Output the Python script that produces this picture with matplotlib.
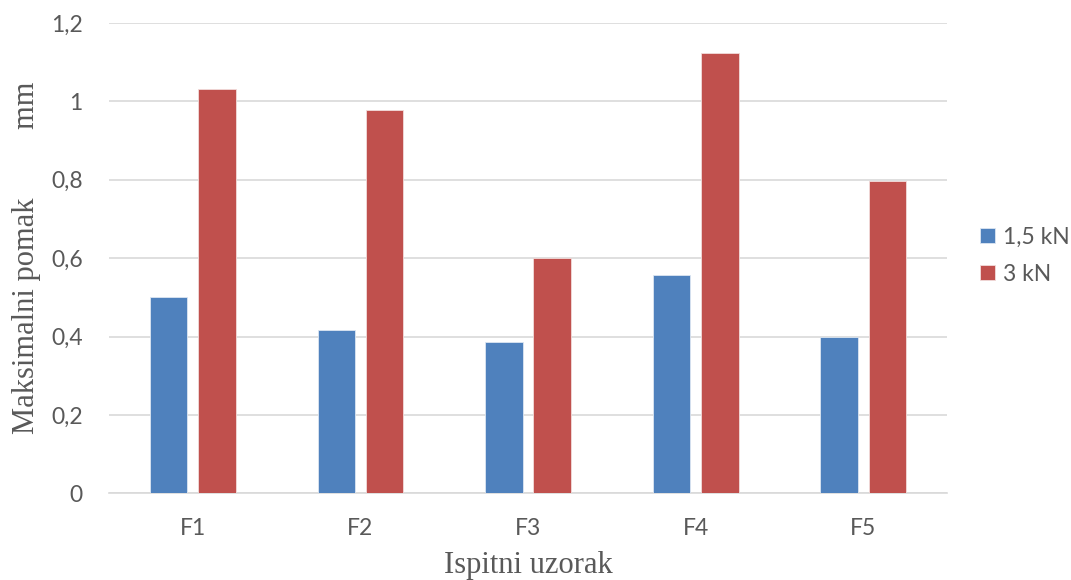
import matplotlib.pyplot as plt
import numpy as np

categories = ['F1', 'F2', 'F3', 'F4', 'F5']
series_names = ['1,5 kN', '3 kN']
load_15 = [0.502, 0.417, 0.385, 0.558, 0.398]
load_3 = [1.031, 0.979, 0.600, 1.124, 0.797]
yticks = [0, 0.2, 0.4, 0.6, 0.8, 1.0, 1.2]
ytick_labels = ['0', '0,2', '0,4', '0,6', '0,8', '1', '1,2']

colors = ['#4F81BD', '#C0504D']
grid_color = '#D9D9D9'
text_color = '#595959'

fig = plt.figure(figsize=(10.71, 5.8), dpi=100)
ax = fig.add_axes([0.1018, 0.1495, 0.7825, 0.8108])

x = np.arange(len(categories))
width = 0.224
offset = 0.144
ax.bar(x - offset, load_15, width, color=colors[0], edgecolor='#DCE6F2', linewidth=0.6,
       label=series_names[0], zorder=3)
ax.bar(x + offset, load_3, width, color=colors[1], edgecolor='#F2DCDB', linewidth=0.6,
       label=series_names[1], zorder=3)

ax.set_xlim(-0.5, len(categories) - 0.5)
ax.set_ylim(0, 1.2)
ax.set_yticks(yticks)
ax.set_yticklabels(ytick_labels)
ax.set_xticks(x)
ax.set_xticklabels(categories)

ax.grid(axis='y', color=grid_color, linewidth=1.2, zorder=0)
for side in ['top', 'right', 'left']:
    ax.spines[side].set_visible(False)
ax.spines['bottom'].set_color(grid_color)
ax.spines['bottom'].set_linewidth(1.2)
ax.tick_params(length=0, labelsize=16.5, labelcolor=text_color)
ax.tick_params(axis='x', pad=18)
ax.tick_params(axis='y', pad=19)
for lbl in ax.get_xticklabels() + ax.get_yticklabels():
    lbl.set_family('Lato')

ax.set_ylabel('Maksimalni pomak         mm', family='Liberation Serif', fontsize=22,
              color=text_color)
ax.yaxis.set_label_coords(-0.081, 0.5)
ax.set_xlabel('Ispitni uzorak', family='Liberation Serif', fontsize=22,
              color=text_color)
ax.xaxis.set_label_coords(0.5, -0.123)

leg = ax.legend(loc='center left', bbox_to_anchor=(1.02, 0.505), frameon=False,
                prop={'family': 'Lato', 'size': 16.5}, handlelength=0.65, handleheight=0.65,
                handletextpad=0.35, labelspacing=0.7, borderaxespad=0.3)
for t in leg.get_texts():
    t.set_color(text_color)

fig.savefig('out.png', dpi=100)
